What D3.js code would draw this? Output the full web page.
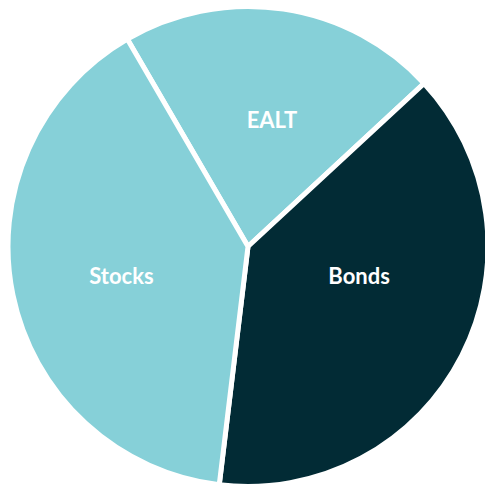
<!DOCTYPE html>
<html>
<head>
<meta charset="utf-8">
<script src="https://cdn.jsdelivr.net/npm/d3@7"></script>
<style>
html,body{margin:0;padding:0;background:#fff;overflow:hidden;}
svg{display:block;}
</style>
</head>
<body>
<svg id="chart" width="485" height="487"></svg>
<script>
const categories = ["EALT", "Bonds", "Stocks"];
const values = [21.5, 38.8, 39.7];

const colors = {EALT: "#86d0d8", Bonds: "#022b35", Stocks: "#86d0d8"};
const labelAdjust = {EALT: 2.2, Bonds: -12, Stocks: -1.5}; // degrees
const labelRadius = {EALT: 129, Bonds: 115, Stocks: 130};

const W = 485, H = 487;
const cx = 248, cy = 246.5, R = 240;
const startDeg = -30.2;

const svg = d3.select("#chart");
const g = svg.append("g").attr("transform", `translate(${cx},${cy})`);

const data = categories.map((c, i) => ({name: c, value: values[i]}));
const pie = d3.pie().sort(null).value(d => d.value)
  .startAngle(startDeg * Math.PI / 180)
  .endAngle((startDeg + 360) * Math.PI / 180);
const arc = d3.arc().innerRadius(0).outerRadius(R);

const arcs = pie(data);
g.selectAll("path.slice").data(arcs).join("path")
  .attr("class", "slice")
  .attr("d", arc)
  .attr("fill", d => colors[d.data.name])
  .attr("stroke", "#fff")
  .attr("stroke-width", 5)
  .attr("stroke-linejoin", "round");

g.selectAll("text.lbl").data(arcs).join("text")
  .attr("class", "lbl")
  .attr("transform", d => {
    const a = (d.startAngle + d.endAngle) / 2 + labelAdjust[d.data.name] * Math.PI / 180;
    const r = labelRadius[d.data.name];
    return `translate(${r * Math.sin(a)},${-r * Math.cos(a)})`;
  })
  .attr("text-anchor", "middle")
  .attr("dy", "0.36em")
  .attr("fill", "#fff")
  .attr("font-family", "Lato, 'Open Sans', sans-serif")
  .attr("font-weight", 700)
  .attr("font-size", 22)
  .text(d => d.data.name);
</script>
</body>
</html>
